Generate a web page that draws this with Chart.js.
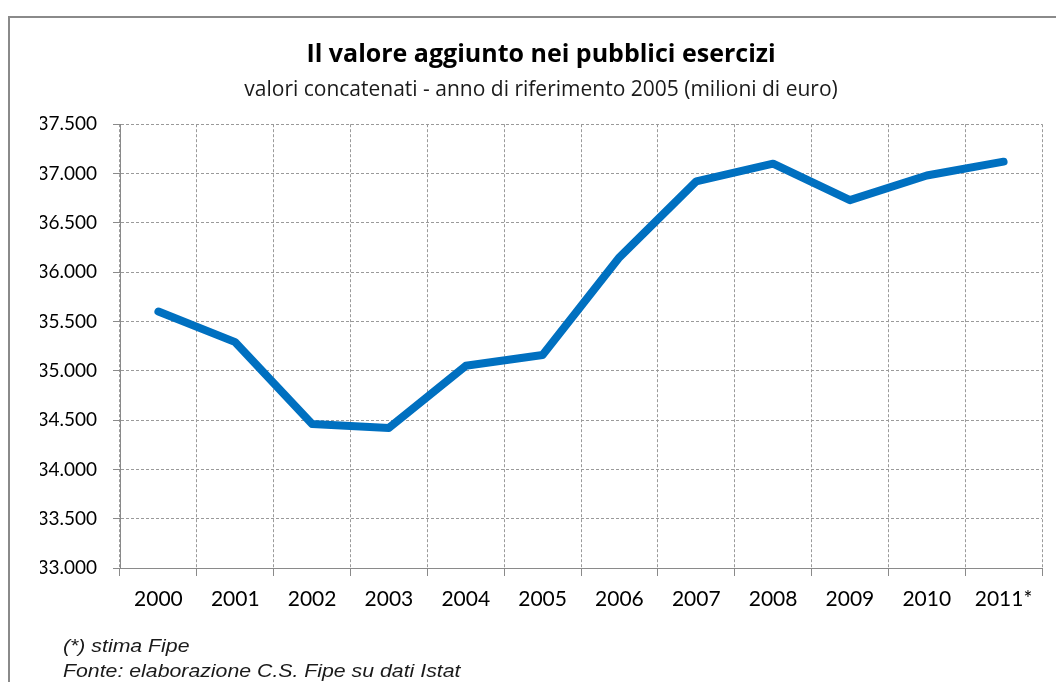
<!DOCTYPE html>
<html lang="it">
<head>
<meta charset="utf-8">
<title>Il valore aggiunto nei pubblici esercizi</title>
<script src="https://cdn.jsdelivr.net/npm/chart.js@4/dist/chart.umd.min.js"></script>
<style>
  html, body { margin: 0; padding: 0; background: #fff; }
  #wrap { position: relative; width: 1056px; height: 682px; overflow: hidden; }
  #frame { position: absolute; left: 8px; top: 16px; width: 1100px; height: 700px;
           border-left: 2px solid #8a8a8a; border-top: 2px solid #8a8a8a; }
  canvas { position: absolute; left: 0; top: 0; }
  .note { position: absolute; left: 63px; font: italic 19px "Liberation Sans", Arial, sans-serif;
          color: #1a1a1a; white-space: nowrap; transform: scaleX(1.12); transform-origin: left top; }
</style>
</head>
<body>
<div id="wrap">
  <div id="frame"></div>
  <canvas id="valoreChart" width="1056" height="682"></canvas>
  <div class="note" style="top:635px">(*) stima Fipe</div>
  <div class="note" style="top:660px">Fonte: elaborazione C.S. Fipe su dati Istat</div>
</div>
<script>
// dati (milioni di euro, valori concatenati)
const anni = ['2000', '2001', '2002', '2003', '2004', '2005', '2006', '2007', '2008', '2009', '2010', '2011*'];
const valoreAggiunto = [35600, 35290, 34460, 34420, 35050, 35160, 36150, 36920, 37100, 36730, 36980, 37120];
const yMin = 33000;
const yMax = 37500;
const yStep = 500;

const titolo = 'Il valore aggiunto nei pubblici esercizi';
const sottotitolo = 'valori concatenati - anno di riferimento 2005 (milioni di euro)';

function formatMigliaia(v) {
    // separatore delle migliaia con il punto
    return String(v).replace(/\B(?=(\d{3})+(?!\d))/g, '.');
}

const ctx = document.getElementById('valoreChart').getContext('2d');

const valoreChart = new Chart(ctx, {
    type: 'line',
    data: {
        labels: anni,
        datasets: [{
            label: 'Valore aggiunto',
            data: valoreAggiunto,
            borderColor: '#0070c0',
            backgroundColor: '#0070c0',
            borderWidth: 8,
            borderCapStyle: 'round',
            borderJoinStyle: 'round',
            pointRadius: 0,
            pointHoverRadius: 0,
            tension: 0,
            fill: false
        }]
    },
    options: {
        responsive: false,
        animation: false,
        layout: {
            padding: { left: 40, right: 14, top: 0, bottom: 0 }
        },
        plugins: {
            legend: { display: false },
            tooltip: { enabled: false },
            title: {
                display: true,
                text: titolo,
                color: '#000',
                font: { family: 'Open Sans', size: 25, weight: 'bold', lineHeight: 1.2 },
                padding: { top: 40, bottom: 4 }
            },
            subtitle: {
                display: true,
                text: sottotitolo,
                color: '#1a1a1a',
                font: { family: 'Open Sans', size: 21, lineHeight: 1.2 },
                padding: { top: 3, bottom: 22 }
            }
        },
        scales: {
            x: {
                offset: true,
                grid: {
                    offset: true,
                    color: '#9a9a9a',
                    lineWidth: 1,
                    tickLength: 8,
                    tickColor: '#8a8a8a',
                    tickBorderDash: []
                },
                border: { display: true, color: '#8a8a8a', width: 1, dash: [3, 2] },
                ticks: {
                    color: '#000',
                    font: { family: 'Lato', size: 21 },
                    padding: 11,
                    maxRotation: 0,
                    autoSkip: false
                },
                afterFit(scale) { scale.height = 114; }
            },
            y: {
                min: yMin,
                max: yMax,
                grid: {
                    color: '#9a9a9a',
                    lineWidth: 1,
                    tickLength: 7,
                    tickColor: '#8a8a8a',
                    tickBorderDash: []
                },
                border: { display: true, color: '#8a8a8a', width: 1, dash: [3, 2] },
                ticks: {
                    stepSize: yStep,
                    color: '#000',
                    font: { family: 'Lato', size: 19 },
                    padding: 16,
                    callback: (v) => formatMigliaia(v)
                },
                afterFit(scale) { scale.width = 80; }
            }
        }
    }
});
</script>
</body>
</html>
